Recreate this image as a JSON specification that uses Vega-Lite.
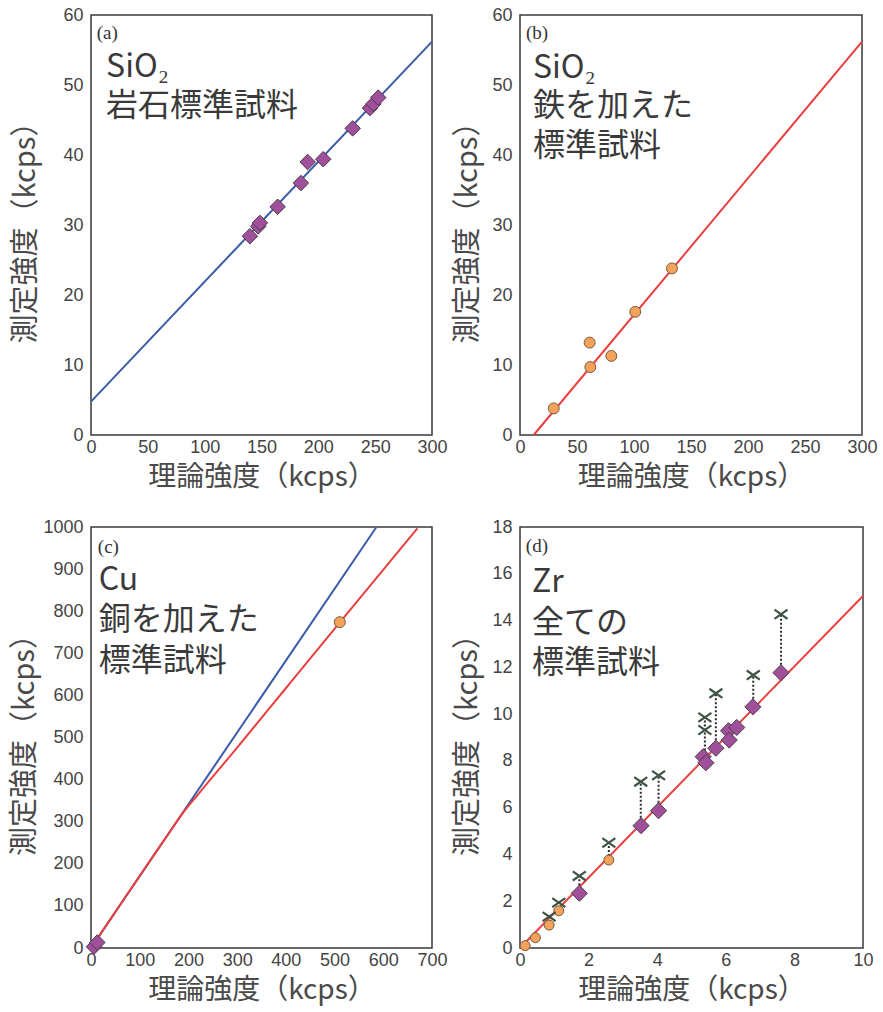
{
  "$schema": "https://vega.github.io/schema/vega-lite/v6.json",
  "padding": {"left": 10, "top": 5, "right": 3, "bottom": 2},
  "background": "white",
  "config": {
    "view": {"stroke": "#3a3a3a", "strokeWidth": 1.5},
    "axis": {
      "ticks": false, "domain": false, "grid": false,
      "labelFont": "Liberation Sans", "labelFontSize": 18, "labelColor": "#444444",
      "labelFlush": false, "labelOverlap": false, "labelBound": false,
      "titleFont": "Noto Sans CJK JP", "titleFontWeight": "normal", "titleColor": "#4a4a4a"
    },
    "axisX": {"labelPadding": 3, "titlePadding": 7, "titleFontSize": 28},
    "axisY": {"labelPadding": 8, "titleFontSize": 29}
  },
  "datasets": {
    "a_line": [{"x": 0, "y": 4.76}, {"x": 300, "y": 56.2}],
    "a_pts": [
      {"x": 139.8, "y": 28.4}, {"x": 147.1, "y": 29.8}, {"x": 148.6, "y": 30.3},
      {"x": 164.2, "y": 32.6}, {"x": 184.7, "y": 36.0}, {"x": 190.6, "y": 39.0},
      {"x": 204.3, "y": 39.4}, {"x": 230.2, "y": 43.8}, {"x": 245.4, "y": 46.7},
      {"x": 248.5, "y": 47.3}, {"x": 252.7, "y": 48.2}
    ],
    "b_line": [{"x": 12, "y": 0}, {"x": 300, "y": 56.2}],
    "b_pts": [
      {"x": 29.6, "y": 3.8}, {"x": 61.7, "y": 9.7}, {"x": 61.1, "y": 13.2},
      {"x": 80.1, "y": 11.3}, {"x": 101.1, "y": 17.6}, {"x": 133.3, "y": 23.8}
    ],
    "c_blue": [{"x": 0, "y": 0}, {"x": 586, "y": 1000}],
    "c_red": [
      {"x": 0, "y": 0}, {"x": 160, "y": 273}, {"x": 187, "y": 318}, {"x": 220, "y": 365},
      {"x": 300, "y": 476}, {"x": 400, "y": 617}, {"x": 510, "y": 772}, {"x": 670, "y": 997}
    ],
    "c_dia": [{"x": 6, "y": 3}, {"x": 13, "y": 13}],
    "c_circ": [{"x": 510.7, "y": 774}],
    "d_line": [{"x": 0, "y": 0}, {"x": 10, "y": 15.05}],
    "d_circ": [
      {"x": 0.15, "y": 0.1}, {"x": 0.45, "y": 0.44}, {"x": 0.85, "y": 0.98},
      {"x": 1.13, "y": 1.59}, {"x": 2.59, "y": 3.76}
    ],
    "d_dia": [
      {"x": 1.73, "y": 2.34}, {"x": 3.53, "y": 5.23}, {"x": 4.04, "y": 5.87},
      {"x": 5.34, "y": 8.18}, {"x": 5.42, "y": 7.92}, {"x": 5.71, "y": 8.54},
      {"x": 6.08, "y": 9.29}, {"x": 6.10, "y": 8.89}, {"x": 6.32, "y": 9.43},
      {"x": 6.79, "y": 10.31}, {"x": 7.61, "y": 11.77}
    ],
    "d_cross": [
      {"x": 0.85, "y": 1.34}, {"x": 1.13, "y": 1.94}, {"x": 1.73, "y": 3.08},
      {"x": 2.59, "y": 4.50}, {"x": 3.52, "y": 7.11}, {"x": 4.04, "y": 7.38},
      {"x": 5.39, "y": 9.86}, {"x": 5.39, "y": 9.32}, {"x": 5.71, "y": 10.89},
      {"x": 6.80, "y": 11.67}, {"x": 7.61, "y": 14.27}
    ],
    "d_rule": [
      {"x": 1.73, "y": 2.34, "y2": 3.08}, {"x": 2.59, "y": 3.76, "y2": 4.50},
      {"x": 3.52, "y": 5.23, "y2": 7.11}, {"x": 4.04, "y": 5.87, "y2": 7.38},
      {"x": 5.39, "y": 8.10, "y2": 9.86}, {"x": 5.71, "y": 8.54, "y2": 10.89},
      {"x": 6.80, "y": 10.31, "y2": 11.67}, {"x": 7.61, "y": 11.77, "y2": 14.27}
    ],
    "notes": [
      {"panel": "a", "kind": "tag", "x": 5, "y": 57.4, "t": "(a)"},
      {"panel": "a", "kind": "big", "x": 13.3, "y": 52.6, "t": "SiO₂"},
      {"panel": "a", "kind": "big", "x": 13.3, "y": 47.0, "t": "岩石標準試料"},
      {"panel": "b", "kind": "tag", "x": 5.3, "y": 57.4, "t": "(b)"},
      {"panel": "b", "kind": "big", "x": 11.4, "y": 52.4, "t": "SiO₂"},
      {"panel": "b", "kind": "big", "x": 11.4, "y": 47.0, "t": "鉄を加えた"},
      {"panel": "b", "kind": "big", "x": 11.4, "y": 41.3, "t": "標準試料"},
      {"panel": "c", "kind": "tag", "x": 14, "y": 953, "t": "(c)"},
      {"panel": "c", "kind": "big", "x": 15.8, "y": 873, "t": "Cu"},
      {"panel": "c", "kind": "big", "x": 15.8, "y": 780, "t": "銅を加えた"},
      {"panel": "c", "kind": "big", "x": 15.8, "y": 681, "t": "標準試料"},
      {"panel": "d", "kind": "tag", "x": 0.17, "y": 17.2, "t": "(d)"},
      {"panel": "d", "kind": "big", "x": 0.35, "y": 15.66, "t": "Zr"},
      {"panel": "d", "kind": "big", "x": 0.35, "y": 13.9, "t": "全ての"},
      {"panel": "d", "kind": "big", "x": 0.35, "y": 12.17, "t": "標準試料"}
    ]
  },
  "columns": 2,
  "spacing": {"row": 92, "column": 88},
  "bounds": "flush",
  "concat": [
    {
      "width": 341, "height": 420,
      "encoding": {
        "x": {"field": "x", "type": "quantitative", "scale": {"domain": [0, 300], "nice": false, "zero": false},
              "axis": {"values": [0, 50, 100, 150, 200, 250, 300], "title": "理論強度（kcps）"}},
        "y": {"field": "y", "type": "quantitative", "scale": {"domain": [0, 60], "nice": false, "zero": false},
              "axis": {"values": [0, 10, 20, 30, 40, 50, 60], "title": "測定強度（kcps）", "titlePadding": 22}}
      },
      "layer": [
        {"data": {"name": "a_line"}, "mark": {"type": "line", "color": "#3b5ca8", "strokeWidth": 2}},
        {"data": {"name": "a_pts"}, "mark": {"type": "point", "shape": "diamond", "filled": true, "fill": "#a04f9b", "stroke": "#4b3b4b", "strokeWidth": 1, "size": 240, "opacity": 1}},
        {"data": {"name": "notes"}, "transform": [{"filter": "datum.panel === 'a' && datum.kind === 'tag'"}],
         "mark": {"type": "text", "align": "left", "baseline": "middle", "font": "Liberation Serif", "fontSize": 19, "color": "#333333"},
         "encoding": {"text": {"field": "t"}}},
        {"data": {"name": "notes"}, "transform": [{"filter": "datum.panel === 'a' && datum.kind === 'big'"}],
         "mark": {"type": "text", "align": "left", "baseline": "middle", "font": "Noto Sans CJK JP", "fontSize": 32, "color": "#3a3a3a"},
         "encoding": {"text": {"field": "t"}}}
      ]
    },
    {
      "width": 342, "height": 420,
      "encoding": {
        "x": {"field": "x", "type": "quantitative", "scale": {"domain": [0, 300], "nice": false, "zero": false},
              "axis": {"values": [0, 50, 100, 150, 200, 250, 300], "title": "理論強度（kcps）"}},
        "y": {"field": "y", "type": "quantitative", "scale": {"domain": [0, 60], "nice": false, "zero": false},
              "axis": {"values": [0, 10, 20, 30, 40, 50, 60], "title": "測定強度（kcps）", "titlePadding": 9}}
      },
      "layer": [
        {"data": {"name": "b_line"}, "mark": {"type": "line", "color": "#e8403f", "strokeWidth": 2}},
        {"data": {"name": "b_pts"}, "mark": {"type": "point", "shape": "circle", "filled": true, "fill": "#f2a25a", "stroke": "#7a5a40", "strokeWidth": 1, "size": 120, "opacity": 1}},
        {"data": {"name": "notes"}, "transform": [{"filter": "datum.panel === 'b' && datum.kind === 'tag'"}],
         "mark": {"type": "text", "align": "left", "baseline": "middle", "font": "Liberation Serif", "fontSize": 19, "color": "#333333"},
         "encoding": {"text": {"field": "t"}}},
        {"data": {"name": "notes"}, "transform": [{"filter": "datum.panel === 'b' && datum.kind === 'big'"}],
         "mark": {"type": "text", "align": "left", "baseline": "middle", "font": "Noto Sans CJK JP", "fontSize": 32, "color": "#3a3a3a"},
         "encoding": {"text": {"field": "t"}}}
      ]
    },
    {
      "width": 341, "height": 421,
      "encoding": {
        "x": {"field": "x", "type": "quantitative", "scale": {"domain": [0, 700], "nice": false, "zero": false},
              "axis": {"values": [0, 100, 200, 300, 400, 500, 600, 700], "title": "理論強度（kcps）"}},
        "y": {"field": "y", "type": "quantitative", "scale": {"domain": [0, 1000], "nice": false, "zero": false},
              "axis": {"values": [0, 100, 200, 300, 400, 500, 600, 700, 800, 900, 1000], "format": "d", "title": "測定強度（kcps）", "titlePadding": 3}}
      },
      "layer": [
        {"data": {"name": "c_blue"}, "mark": {"type": "line", "color": "#3b5ca8", "strokeWidth": 2}},
        {"data": {"name": "c_red"}, "mark": {"type": "line", "color": "#e8403f", "strokeWidth": 2, "interpolate": "monotone"}},
        {"data": {"name": "c_dia"}, "mark": {"type": "point", "shape": "diamond", "filled": true, "fill": "#a04f9b", "stroke": "#4b3b4b", "strokeWidth": 1, "size": 240, "opacity": 1}},
        {"data": {"name": "c_circ"}, "mark": {"type": "point", "shape": "circle", "filled": true, "fill": "#f2a25a", "stroke": "#7a5a40", "strokeWidth": 1, "size": 120, "opacity": 1}},
        {"data": {"name": "notes"}, "transform": [{"filter": "datum.panel === 'c' && datum.kind === 'tag'"}],
         "mark": {"type": "text", "align": "left", "baseline": "middle", "font": "Liberation Serif", "fontSize": 19, "color": "#333333"},
         "encoding": {"text": {"field": "t"}}},
        {"data": {"name": "notes"}, "transform": [{"filter": "datum.panel === 'c' && datum.kind === 'big'"}],
         "mark": {"type": "text", "align": "left", "baseline": "middle", "font": "Noto Sans CJK JP", "fontSize": 32, "color": "#3a3a3a"},
         "encoding": {"text": {"field": "t"}}}
      ]
    },
    {
      "width": 343, "height": 421,
      "encoding": {
        "x": {"field": "x", "type": "quantitative", "scale": {"domain": [0, 10], "nice": false, "zero": false},
              "axis": {"values": [0, 2, 4, 6, 8, 10], "title": "理論強度（kcps）"}},
        "y": {"field": "y", "type": "quantitative", "scale": {"domain": [0, 18], "nice": false, "zero": false},
              "axis": {"values": [0, 2, 4, 6, 8, 10, 12, 14, 16, 18], "title": "測定強度（kcps）", "titlePadding": 9}}
      },
      "layer": [
        {"data": {"name": "d_line"}, "mark": {"type": "line", "color": "#e8403f", "strokeWidth": 2}},
        {"data": {"name": "d_rule"}, "mark": {"type": "rule", "color": "#2b2b2b", "strokeWidth": 2, "strokeDash": [2, 2]},
         "encoding": {"y2": {"field": "y2"}}},
        {"data": {"name": "d_circ"}, "mark": {"type": "point", "shape": "circle", "filled": true, "fill": "#f2a25a", "stroke": "#7a5a40", "strokeWidth": 1, "size": 100, "opacity": 1}},
        {"data": {"name": "d_dia"}, "mark": {"type": "point", "shape": "diamond", "filled": true, "fill": "#a04f9b", "stroke": "#4b3b4b", "strokeWidth": 1, "size": 260, "opacity": 1}},
        {"data": {"name": "d_cross"}, "mark": {"type": "point", "shape": "M-1,-0.7L1,0.7M-1,0.7L1,-0.7", "filled": false, "stroke": "#3d5446", "strokeWidth": 2.2, "size": 170, "opacity": 1}},
        {"data": {"name": "notes"}, "transform": [{"filter": "datum.panel === 'd' && datum.kind === 'tag'"}],
         "mark": {"type": "text", "align": "left", "baseline": "middle", "font": "Liberation Serif", "fontSize": 19, "color": "#333333"},
         "encoding": {"text": {"field": "t"}}},
        {"data": {"name": "notes"}, "transform": [{"filter": "datum.panel === 'd' && datum.kind === 'big'"}],
         "mark": {"type": "text", "align": "left", "baseline": "middle", "font": "Noto Sans CJK JP", "fontSize": 32, "color": "#3a3a3a"},
         "encoding": {"text": {"field": "t"}}}
      ]
    }
  ]
}
